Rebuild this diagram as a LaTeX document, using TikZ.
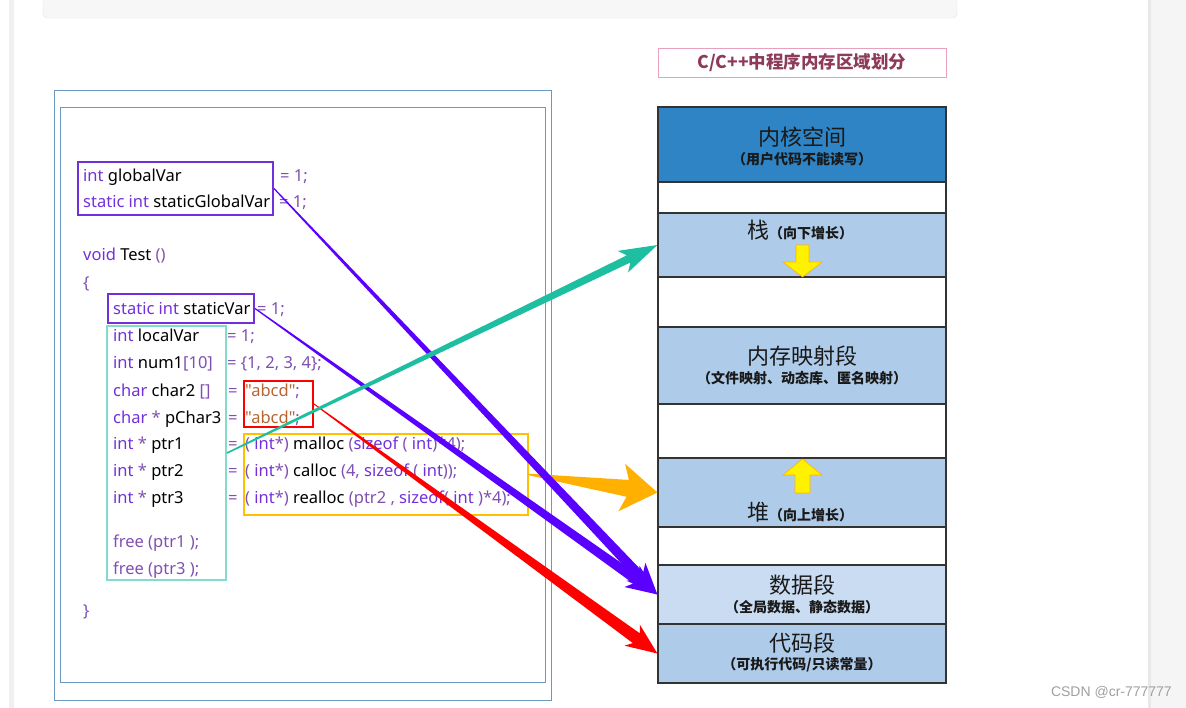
\documentclass[tikz,border=0pt]{standalone}
\usepackage{fontspec}
\newfontfamily\codefont{Noto Sans}
\newfontfamily\cjk{Noto Sans CJK SC}
\newfontfamily\markfont{Liberation Sans}
\usetikzlibrary
  {
    calc,       % points along and beside the arrows
    positioning,
  }

\definecolor{kwcol}{RGB}{112,48,220}
\definecolor{opcol}{RGB}{128,80,176}
\definecolor{strcol}{RGB}{184,100,50}
\definecolor{framecol}{RGB}{79,135,181}
\definecolor{violetarrow}{RGB}{90,0,255}
\definecolor{orangearrow}{RGB}{255,176,0}
\definecolor{tealarrow}{RGB}{30,190,160}
\definecolor{kernelcol}{RGB}{46,132,196}
\definecolor{segcol}{RGB}{174,203,234}
\definecolor{datacol}{RGB}{201,220,242}
\definecolor{titlecol}{RGB}{142,58,89}
\definecolor{titleframe}{RGB}{232,160,190}

\newcommand\kw[1]{\textcolor{kwcol}{#1}}
\newcommand\op[1]{\textcolor{opcol}{#1}}
\newcommand\str[1]{\textcolor{strcol}{#1}}

% tapered arrow: colour, from, to, start half width, end half width, head half width, head length
\newcommand\taper[7]{%
  \coordinate (tN) at ($(#3)!#7!(#2)$);
  \coordinate (tM) at ($(#3)!#7*1.2!(#2)$);
  \fill [#1] ($(#2)!#4!90:(#3)$) -- ($(tN)!#5!90:(#3)$) -- ($(tM)!#6!90:(#3)$)
    -- (#3) -- ($(tM)!#6!-90:(#3)$) -- ($(tN)!#5!-90:(#3)$)
    -- ($(#2)!#4!-90:(#3)$) -- cycle;}

\begin{document}
\begin{tikzpicture}
    [
      x=1pt, y=-1pt,
      code/.style=
        {
          anchor=base west,
          inner sep=0pt,
          font=\codefont\fontsize{16.5}{20}\selectfont,
        },
      codebox/.style=
        {
          draw=#1,
          line width=2pt,
          inner sep=0pt,
        },
      seg/.style=
        {
          draw=black!80,
          line width=1.2pt,
          minimum width=288,
          inner sep=0pt,
        },
      bigcn/.style=
        {
          inner sep=0pt,
          text=black!90,
          font=\cjk\fontsize{22}{24}\selectfont,
        },
      smallcn/.style=
        {
          inner sep=0pt,
          text=black!90,
          font=\cjk\bfseries\fontsize{14}{16}\selectfont,
        },
      growarrow/.style=
        {
          fill=yellow,
          draw=orange!60!yellow,
          line width=0.6pt,
        },
    ]
    \useasboundingbox (0,0) rectangle (1186,708);

    % page around the picture
    \fill [gray!12] (9,0) rectangle (14,708);
    \fill [gray!8] (1148,0) rectangle (1186,708);
    \fill [gray!18] (1148,0) rectangle (1151,708);
    \draw [fill=gray!6, draw=gray!22, rounded corners=4pt] (43,-10) rectangle (957,18);

    % code frames
    \draw [framecol!85, line width=0.9pt] (54,90) rectangle (551,700);
    \draw [framecol!85, line width=0.9pt] (60,107) rectangle (545,682);

    \node (ln1) [code] at (83,182) {\kw{int} globalVar};
    \node (eq1) [code] at (280,182) {\op{= 1;}};
    \node (ln2) [code] at (83,208) {\kw{static int} staticGlobalVar};
    \node (eq2) [code] at (279,208) {\op{= 1;}};
    \node (ln3) [code] at (83,261) {\kw{void} Test \op{()}};
    \node (ln4) [code] at (83,289) {\op{\{}};
    \node (ln5) [code] at (113,315) {\kw{static int} staticVar};
    \node (eq5) [code] at (257,315) {\op{= 1;}};
    \node (ln6) [code] at (113,342) {\kw{int} localVar};
    \node (eq6) [code] at (227,342) {\op{= 1;}};
    \node (ln7) [code] at (113,369) {\kw{int} num1\op{[10]}};
    \node (eq7) [code] at (227,369) {\op{= \{1, 2, 3, 4\};}};
    \node (ln8) [code] at (113,396) {\kw{char} char2 \op{[]}};
    \node (eq8) [code] at (228,396) {\op{=}};
    \node (rv8) [code] at (245,396) {\str{"abcd"}\op{;}};
    \node (ln9) [code] at (113,423) {\kw{char} \op{*} pChar3};
    \node (eq9) [code] at (228,423) {\op{=}};
    \node (rv9) [code] at (245,423) {\str{"abcd"}\op{;}};
    \node (ln10) [code] at (113,449) {\kw{int} \op{*} ptr1};
    \node (eq10) [code] at (228,449) {\op{=}};
    \node (rv10) [code] at (245,449) {\op{(} \kw{int}\op{*)} malloc \op{(}\kw{sizeof} \op{(} \kw{int}\op{)*4);}};
    \node (ln11) [code] at (113,476) {\kw{int} \op{*} ptr2};
    \node (eq11) [code] at (228,476) {\op{=}};
    \node (rv11) [code] at (245,476) {\op{(} \kw{int}\op{*)} calloc \op{(4,} \kw{sizeof} \op{(} \kw{int}\op{));}};
    \node (ln12) [code] at (113,503) {\kw{int} \op{*} ptr3};
    \node (eq12) [code] at (228,503) {\op{=}};
    \node (rv12) [code] at (245,503) {\op{(} \kw{int}\op{*)} realloc \op{(ptr2 ,} \kw{sizeof}\op{(} \kw{int} \op{)*4);}};
    \node (ln13) [code] at (113,547) {\op{free (ptr1 );}};
    \node (ln14) [code] at (113,574) {\op{free (ptr3 );}};
    \node (ln15) [code] at (83,616) {\op{\}}};

    \node (gbox) [codebox=kwcol, minimum width=195, minimum height=53] at (175.5,188.5) {};
    \node (sbox) [codebox=kwcol, minimum width=146, minimum height=29] at (181,308.5) {};
    \node (lbox) [codebox=tealarrow!55, minimum width=119, minimum height=254] at (166.5,453) {};
    \node (rbox) [codebox=red, minimum width=69, minimum height=46] at (278.5,404) {};
    \node (obox) [codebox=orangearrow!80!yellow, minimum width=284, minimum height=81] at (386,474.5) {};

    % memory layout
    \node (title) [draw=titleframe, line width=0.8pt, minimum width=288, minimum height=29,
      text=titlecol, font=\cjk\bfseries\fontsize{17.5}{20}\selectfont] at (802,62.5) {C/C++中程序内存区域划分};

    \node (kernel) [seg, fill=kernelcol, minimum height=75] at (802,144.5) {};
    \node (gap1) [seg, fill=white, minimum height=31] at (802,197.5) {};
    \node (stack) [seg, fill=segcol, minimum height=64] at (802,245) {};
    \node (gap2) [seg, fill=white, minimum height=50] at (802,302) {};
    \node (mmap) [seg, fill=segcol, minimum height=77] at (802,365.5) {};
    \node (gap3) [seg, fill=white, minimum height=54] at (802,431) {};
    \node (heap) [seg, fill=segcol, minimum height=69] at (802,492.5) {};
    \node (gap4) [seg, fill=white, minimum height=38] at (802,546) {};
    \node (data) [seg, fill=datacol, minimum height=59] at (802,594.5) {};
    \node (code) [seg, fill=segcol, minimum height=59] at (802,653.5) {};

    \node (kernelT) [bigcn] at (802,137) {内核空间};
    \node (kernelS) [smallcn] at (802,159) {（用户代码不能读写）};
    \node (stackT) [bigcn] at (800,230) {栈{\bfseries\fontsize{14}{16}\selectfont（向下增长）}};
    \node (mmapT) [bigcn] at (802,356) {内存映射段};
    \node (mmapS) [smallcn] at (802,378) {（文件映射、动态库、匿名映射）};
    \node (heapT) [bigcn] at (800,512) {堆{\bfseries\fontsize{14}{16}\selectfont（向上增长）}};
    \node (dataT) [bigcn] at (802,585) {数据段};
    \node (dataS) [smallcn] at (802,607) {（全局数据、静态数据）};
    \node (codeT) [bigcn] at (802,643) {代码段};
    \node (codeS) [smallcn] at (802,665) {（可执行代码/只读常量）};

    \draw [growarrow] (796,245) -- (809,245) -- (809,262) -- (822,262) -- (802.5,277)
      -- (783,262) -- (796,262) -- cycle;
    \draw [growarrow] (795,493) -- (810,493) -- (810,475) -- (822,475) -- (802.5,459)
      -- (783,475) -- (795,475) -- cycle;

    % where each part of the code lives
    \taper{orangearrow}{obox.east}{heap.west}{0.8pt}{8.5pt}{24pt}{30pt}
    \taper{violetarrow}{gbox.east}{data.west}{0.6pt}{5pt}{13pt}{26pt}
    \taper{violetarrow}{sbox.east}{data.west}{0.6pt}{5pt}{13pt}{26pt}
    \taper{red}{rbox.east}{code.west}{0.5pt}{6pt}{13pt}{26pt}
    \taper{tealarrow}{lbox.east}{stack.west}{0.8pt}{4pt}{12pt}{32pt}

    \node (mark) [anchor=east, inner sep=0pt, text=gray!75,
      font=\markfont\fontsize{14}{16}\selectfont] at (1172,692) {CSDN @cr-777777};
  \end{tikzpicture}
\end{document}
